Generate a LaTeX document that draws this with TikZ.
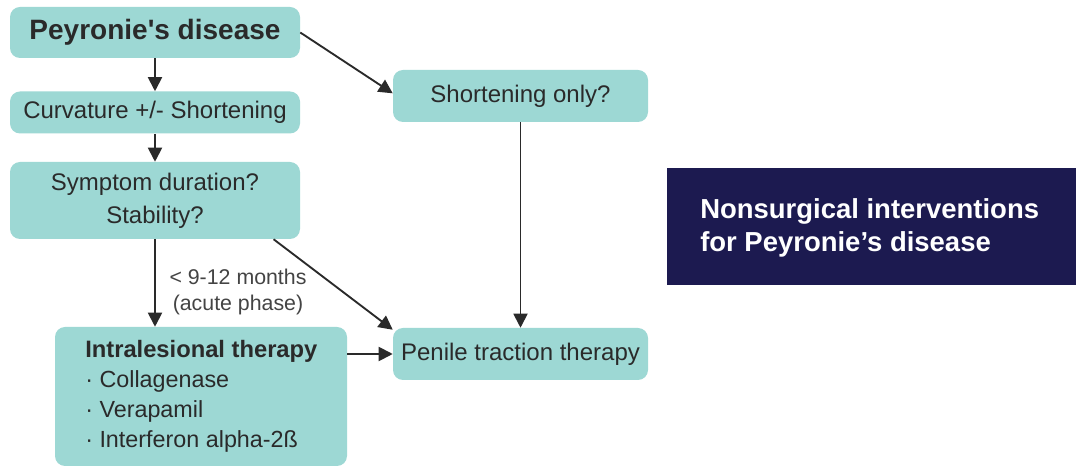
\documentclass[tikz,border=0pt]{standalone}
\usepackage{fontspec}
\setmainfont{Liberation Sans}
\usetikzlibrary{arrows.meta}
\definecolor{teal1}{HTML}{9DD8D4}
\definecolor{navy}{HTML}{1C1A50}
\definecolor{txt}{HTML}{2A2A2A}
\definecolor{lbl}{HTML}{444444}
\tikzset{
  box/.style={fill=teal1, rounded corners=7.5pt, inner sep=0pt, text=txt, align=center, font=\fontsize{18}{24.75}\selectfont},
  arr/.style={draw=txt, line width=1.4pt, -{Triangle[length=10.5pt,width=10.5pt]}},
}
\begin{document}
\begin{tikzpicture}[x=0.75pt,y=-0.75pt]
\useasboundingbox[fill=white] (0,0) rectangle (1076,466);
\node[box, minimum width=217.5pt, minimum height=38.25pt, font=\fontsize{21}{24}\selectfont\bfseries] (pey) at (155,32.5) {Peyronie\textquotesingle s disease};
\node[box, minimum width=217.5pt, minimum height=31.5pt] (curv) at (155,112.5) {Curvature +/- Shortening};
\node[box, minimum width=217.5pt, minimum height=57.75pt] (sym) at (155,200.5) {Symptom duration?\\Stability?};
\node[box, minimum width=219pt, minimum height=104.25pt] (intra) at (201,396.5) {};
\node[anchor=north west, inner sep=0pt, text=txt, align=left, font=\fontsize{17.5}{22.5}\selectfont] (intratext) at (85,340) {{\fontsize{17.8}{22.5}\selectfont\bfseries Intralesional therapy}\\ · Collagenase\\ · Verapamil\\ · Interferon alpha-2ß};
\node[box, minimum width=191.25pt, minimum height=39pt] (short) at (520.5,96) {Shortening only?};
\node[box, minimum width=191.25pt, minimum height=39pt] (pen) at (520.5,354) {Penile traction therapy};
\node[fill=navy, minimum width=306.75pt, minimum height=87.75pt, inner sep=0pt] (head) at (871.5,226.5) {};
\node[anchor=west, text=white, align=left, inner sep=0pt, font=\fontsize{20.6}{24.75}\selectfont\bfseries] (headtext) at (700,228) {Nonsurgical interventions\\for Peyronie’s disease};
\node[text=lbl, align=center, inner sep=0pt, font=\fontsize{16}{19}\selectfont] (lab) at (238,292) {< 9-12 months\\(acute phase)};
\draw[arr] (pey.south) -- (curv.north);
\draw[arr] (curv.south) -- (sym.north);
\draw[arr] (sym.south) -- (sym.south |- intra.north);
\draw[arr] (pey.east) -- ([yshift=2pt]short.west);
\draw[arr] ([xshift=-20pt]sym.south east) -- ([yshift=-1.5pt]pen.north west);
\draw[arr] (short.south) -- (pen.north);
\draw[arr] (intra.east |- pen.west) -- (pen.west);
\end{tikzpicture}
\end{document}
